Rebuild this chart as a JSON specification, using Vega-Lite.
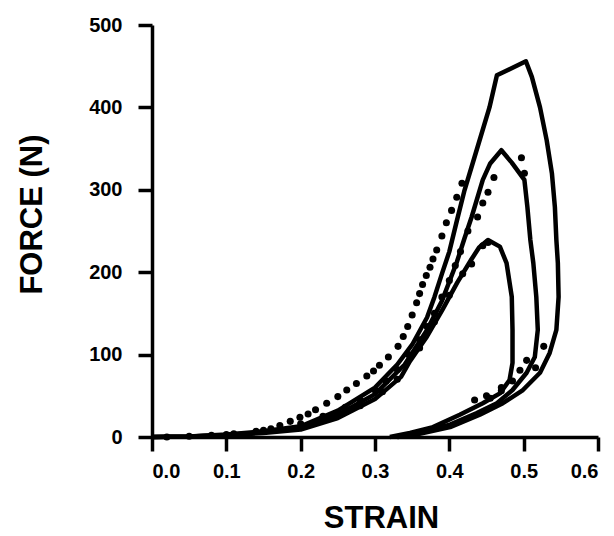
{
  "$schema": "https://vega.github.io/schema/vega-lite/v6.json",
  "width": 446,
  "height": 412,
  "autosize": "none",
  "padding": {"left": 152, "top": 25, "right": 16, "bottom": 99},
  "background": "white",
  "datasets": {
    "model": [
      {"loop":"A","i":0,"strain":0,"force":0},{"loop":"A","i":1,"strain":0.05,"force":0.5},{"loop":"A","i":2,"strain":0.1,"force":3},{"loop":"A","i":3,"strain":0.15,"force":7},{"loop":"A","i":4,"strain":0.2,"force":13},{"loop":"A","i":5,"strain":0.25,"force":32},{"loop":"A","i":6,"strain":0.3,"force":60},{"loop":"A","i":7,"strain":0.33,"force":88},{"loop":"A","i":8,"strain":0.35,"force":112},{"loop":"A","i":9,"strain":0.37,"force":145},{"loop":"A","i":10,"strain":0.38,"force":170},{"loop":"A","i":11,"strain":0.39,"force":198},{"loop":"A","i":12,"strain":0.4,"force":225},{"loop":"A","i":13,"strain":0.41,"force":262},{"loop":"A","i":14,"strain":0.42,"force":298},{"loop":"A","i":15,"strain":0.43,"force":328},{"loop":"A","i":16,"strain":0.44,"force":358},{"loop":"A","i":17,"strain":0.454,"force":400},{"loop":"A","i":18,"strain":0.464,"force":439},{"loop":"A","i":19,"strain":0.503,"force":456},{"loop":"A","i":20,"strain":0.511,"force":437},{"loop":"A","i":21,"strain":0.522,"force":400},{"loop":"A","i":22,"strain":0.531,"force":360},{"loop":"A","i":23,"strain":0.538,"force":320},{"loop":"A","i":24,"strain":0.542,"force":279},{"loop":"A","i":25,"strain":0.544,"force":239},{"loop":"A","i":26,"strain":0.546,"force":211},{"loop":"A","i":27,"strain":0.547,"force":170},{"loop":"A","i":28,"strain":0.544,"force":130},{"loop":"A","i":29,"strain":0.535,"force":102},{"loop":"A","i":30,"strain":0.522,"force":78},{"loop":"A","i":31,"strain":0.499,"force":57},{"loop":"A","i":32,"strain":0.472,"force":41},{"loop":"A","i":33,"strain":0.441,"force":27},{"loop":"A","i":34,"strain":0.401,"force":12},{"loop":"A","i":35,"strain":0.36,"force":4},{"loop":"A","i":36,"strain":0.33,"force":0},
      {"loop":"B","i":0,"strain":0,"force":0},{"loop":"B","i":1,"strain":0.05,"force":0.5},{"loop":"B","i":2,"strain":0.1,"force":2.5},{"loop":"B","i":3,"strain":0.15,"force":6},{"loop":"B","i":4,"strain":0.2,"force":11},{"loop":"B","i":5,"strain":0.25,"force":27},{"loop":"B","i":6,"strain":0.3,"force":52},{"loop":"B","i":7,"strain":0.34,"force":88},{"loop":"B","i":8,"strain":0.37,"force":130},{"loop":"B","i":9,"strain":0.39,"force":165},{"loop":"B","i":10,"strain":0.41,"force":212},{"loop":"B","i":11,"strain":0.42,"force":240},{"loop":"B","i":12,"strain":0.43,"force":267},{"loop":"B","i":13,"strain":0.445,"force":312},{"loop":"B","i":14,"strain":0.455,"force":332},{"loop":"B","i":15,"strain":0.47,"force":348},{"loop":"B","i":16,"strain":0.484,"force":333},{"loop":"B","i":17,"strain":0.501,"force":312},{"loop":"B","i":18,"strain":0.505,"force":279},{"loop":"B","i":19,"strain":0.509,"force":239},{"loop":"B","i":20,"strain":0.513,"force":211},{"loop":"B","i":21,"strain":0.517,"force":170},{"loop":"B","i":22,"strain":0.519,"force":130},{"loop":"B","i":23,"strain":0.515,"force":97},{"loop":"B","i":24,"strain":0.504,"force":78},{"loop":"B","i":25,"strain":0.485,"force":57},{"loop":"B","i":26,"strain":0.464,"force":41},{"loop":"B","i":27,"strain":0.437,"force":29},{"loop":"B","i":28,"strain":0.401,"force":15},{"loop":"B","i":29,"strain":0.356,"force":5},{"loop":"B","i":30,"strain":0.33,"force":0},
      {"loop":"C","i":0,"strain":0,"force":0},{"loop":"C","i":1,"strain":0.05,"force":0.5},{"loop":"C","i":2,"strain":0.1,"force":2},{"loop":"C","i":3,"strain":0.15,"force":5},{"loop":"C","i":4,"strain":0.2,"force":9},{"loop":"C","i":5,"strain":0.25,"force":23},{"loop":"C","i":6,"strain":0.3,"force":46},{"loop":"C","i":7,"strain":0.335,"force":73},{"loop":"C","i":8,"strain":0.347,"force":92},{"loop":"C","i":9,"strain":0.37,"force":122},{"loop":"C","i":10,"strain":0.391,"force":155},{"loop":"C","i":11,"strain":0.411,"force":188},{"loop":"C","i":12,"strain":0.43,"force":216},{"loop":"C","i":13,"strain":0.44,"force":230},{"loop":"C","i":14,"strain":0.452,"force":239},{"loop":"C","i":15,"strain":0.468,"force":231},{"loop":"C","i":16,"strain":0.477,"force":211},{"loop":"C","i":17,"strain":0.484,"force":170},{"loop":"C","i":18,"strain":0.485,"force":130},{"loop":"C","i":19,"strain":0.485,"force":90},{"loop":"C","i":20,"strain":0.481,"force":69},{"loop":"C","i":21,"strain":0.468,"force":53},{"loop":"C","i":22,"strain":0.445,"force":41},{"loop":"C","i":23,"strain":0.414,"force":27},{"loop":"C","i":24,"strain":0.378,"force":12},{"loop":"C","i":25,"strain":0.347,"force":5},{"loop":"C","i":26,"strain":0.32,"force":0}
    ],
    "exp": [
      {"loop":"A","strain":0.02,"force":0},{"loop":"A","strain":0.05,"force":1},{"loop":"A","strain":0.08,"force":2},{"loop":"A","strain":0.11,"force":4},{"loop":"A","strain":0.14,"force":7},{"loop":"A","strain":0.16,"force":10},{"loop":"A","strain":0.172,"force":14},{"loop":"A","strain":0.186,"force":19},{"loop":"A","strain":0.199,"force":24},{"loop":"A","strain":0.21,"force":28},{"loop":"A","strain":0.22,"force":33},{"loop":"A","strain":0.235,"force":41},{"loop":"A","strain":0.25,"force":49},{"loop":"A","strain":0.262,"force":57},{"loop":"A","strain":0.275,"force":65},{"loop":"A","strain":0.289,"force":74},{"loop":"A","strain":0.298,"force":80},{"loop":"A","strain":0.306,"force":87},{"loop":"A","strain":0.318,"force":97},{"loop":"A","strain":0.331,"force":110},{"loop":"A","strain":0.338,"force":122},{"loop":"A","strain":0.344,"force":134},{"loop":"A","strain":0.35,"force":148},{"loop":"A","strain":0.356,"force":163},{"loop":"A","strain":0.36,"force":174},{"loop":"A","strain":0.364,"force":185},{"loop":"A","strain":0.369,"force":196},{"loop":"A","strain":0.374,"force":206},{"loop":"A","strain":0.378,"force":216},{"loop":"A","strain":0.383,"force":227},{"loop":"A","strain":0.39,"force":244},{"loop":"A","strain":0.396,"force":260},{"loop":"A","strain":0.403,"force":275},{"loop":"A","strain":0.41,"force":291},{"loop":"A","strain":0.417,"force":308},{"loop":"A","strain":0.527,"force":110},{"loop":"A","strain":0.516,"force":84},
      {"loop":"B","strain":0.1,"force":3},{"loop":"B","strain":0.15,"force":8},{"loop":"B","strain":0.2,"force":16},{"loop":"B","strain":0.23,"force":25},{"loop":"B","strain":0.26,"force":36},{"loop":"B","strain":0.28,"force":45},{"loop":"B","strain":0.3,"force":57},{"loop":"B","strain":0.315,"force":68},{"loop":"B","strain":0.33,"force":82},{"loop":"B","strain":0.345,"force":100},{"loop":"B","strain":0.36,"force":118},{"loop":"B","strain":0.37,"force":134},{"loop":"B","strain":0.38,"force":150},{"loop":"B","strain":0.39,"force":170},{"loop":"B","strain":0.4,"force":190},{"loop":"B","strain":0.408,"force":208},{"loop":"B","strain":0.415,"force":225},{"loop":"B","strain":0.425,"force":250},{"loop":"B","strain":0.438,"force":267},{"loop":"B","strain":0.445,"force":284},{"loop":"B","strain":0.452,"force":297},{"loop":"B","strain":0.46,"force":315},{"loop":"B","strain":0.497,"force":339},{"loop":"B","strain":0.501,"force":320},{"loop":"B","strain":0.504,"force":93},{"loop":"B","strain":0.495,"force":81},{"loop":"B","strain":0.485,"force":68},{"loop":"B","strain":0.47,"force":56},{"loop":"B","strain":0.455,"force":47},
      {"loop":"C","strain":0.25,"force":26},{"loop":"C","strain":0.28,"force":38},{"loop":"C","strain":0.31,"force":55},{"loop":"C","strain":0.33,"force":70},{"loop":"C","strain":0.36,"force":108},{"loop":"C","strain":0.38,"force":140},{"loop":"C","strain":0.4,"force":172},{"loop":"C","strain":0.418,"force":198},{"loop":"C","strain":0.43,"force":210},{"loop":"C","strain":0.445,"force":232},{"loop":"C","strain":0.452,"force":236},{"loop":"C","strain":0.434,"force":45},{"loop":"C","strain":0.45,"force":50},{"loop":"C","strain":0.47,"force":60}
    ]
  },
  "layer": [
    {
      "data": {"name": "model"},
      "mark": {"type": "line", "color": "black", "strokeWidth": 4.5, "strokeJoin": "round"},
      "encoding": {
        "x": {"field": "strain", "type": "quantitative", "scale": {"domain": [0, 0.6]}, "axis": {"values": [0, 0.1, 0.2, 0.3, 0.4, 0.5, 0.6], "format": ".1f", "title": "STRAIN", "titleX": 229, "titleY": 66, "titleBaseline": "top"}},
        "y": {"field": "force", "type": "quantitative", "scale": {"domain": [0, 500]}, "axis": {"values": [0, 100, 200, 300, 400, 500], "title": "FORCE (N)", "titleX": -120, "titleY": 189, "titleBaseline": "middle"}},
        "detail": {"field": "loop"},
        "order": {"field": "i", "type": "quantitative"}
      }
    },
    {
      "data": {"name": "exp"},
      "mark": {"type": "point", "filled": true, "color": "black", "size": 50, "opacity": 1},
      "encoding": {
        "x": {"field": "strain", "type": "quantitative"},
        "y": {"field": "force", "type": "quantitative"}
      }
    }
  ],
  "config": {
    "view": {"stroke": null},
    "axis": {
      "grid": false,
      "domainColor": "black",
      "domainWidth": 3.5,
      "tickColor": "black",
      "tickWidth": 3.5,
      "tickSize": 14,
      "labelFont": "Liberation Sans",
      "labelFontWeight": "bold",
      "labelFontSize": 20,
      "labelColor": "black",
      "titleFont": "Liberation Sans",
      "titleFontWeight": "bold",
      "titleFontSize": 31,
      "titleColor": "black"
    },
    "axisX": {"labelPadding": 10},
    "axisY": {"labelPadding": 16}
  }
}
